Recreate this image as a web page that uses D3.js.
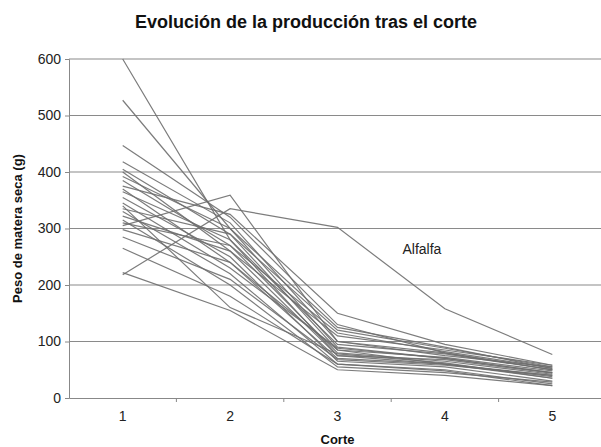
<!DOCTYPE html>
<html><head><meta charset="utf-8">
<script src="https://cdn.jsdelivr.net/npm/d3@7"></script>
<style>body{margin:0;background:#fff}svg{display:block}text{font-family:"Liberation Sans",Arial,sans-serif}</style>
</head><body><svg id="c" width="601" height="447"></svg>
<script>
const cortes = [1, 2, 3, 4, 5];
const yTicks = [0, 100, 200, 300, 400, 500, 600];
const title = "Evolución de la producción tras el corte";
const xTitle = "Corte";
const yTitle = "Peso de matera seca (g)";
const s01 = [600, 280, 75, 60, 40];
const s02 = [527, 300, 90, 70, 45];
const s03 = [447, 320, 130, 80, 50];
const s04 = [418, 310, 100, 75, 55];
const s05 = [405, 290, 85, 72, 48];
const s06 = [400, 260, 110, 85, 58];
const s07 = [392, 300, 125, 90, 52];
const s08 = [385, 270, 80, 65, 42];
const s09 = [375, 325, 150, 95, 58];
const s10 = [370, 240, 70, 60, 38];
const s11 = [365, 280, 95, 78, 50];
const s12 = [355, 250, 65, 55, 30];
const s13 = [345, 230, 88, 70, 45];
const s14 = [335, 290, 120, 88, 55];
const s15 = [330, 220, 60, 50, 25];
const s16 = [322, 260, 75, 68, 44];
const s17 = [315, 200, 55, 45, 28];
const s18 = [305, 359, 100, 80, 50];
const s19 = [298, 240, 85, 60, 35];
const s20 = [285, 210, 68, 58, 40];
const s21 = [265, 180, 60, 48, 22];
const s22 = [222, 155, 50, 40, 22];
const s23 = [340, 160, 78, 62, 35];
const s24 = [310, 270, 115, 82, 53];
const alfalfa = [218, 335, 302, 158, 77];
const alfalfaLabel = "Alfalfa";
const series = [s01,s02,s03,s04,s05,s06,s07,s08,s09,s10,s11,s12,s13,s14,s15,s16,s17,s18,s19,s20,s21,s22,s23,s24,alfalfa];

const svg = d3.select("#c");
const L = 69, R = 606, T = 59, B = 398;
const x = d3.scaleBand().domain(cortes).range([L, R]);
const y = d3.scaleLinear().domain([0, 600]).range([B, T]);
const cx = d => x(d) + x.bandwidth() / 2;

svg.append("defs").append("clipPath").attr("id","clip").append("rect").attr("x",0).attr("y",0).attr("width",601).attr("height",447);
const g = svg.append("g").attr("clip-path","url(#clip)");

// gridlines
g.selectAll(".grid").data(yTicks.filter(v => v > 0)).join("line")
  .attr("x1", L).attr("x2", 601).attr("y1", d => y(d)).attr("y2", d => y(d))
  .attr("stroke", "#8a8a8a").attr("stroke-width", 1.2);

// axes
const yAxis = g.append("g").attr("transform", `translate(${L},0)`)
  .call(d3.axisLeft(y).tickValues(yTicks).tickSize(4).tickPadding(4));
yAxis.select(".domain").attr("stroke", "#888");
yAxis.selectAll(".tick line").attr("stroke", "#888");
yAxis.selectAll("text").attr("font-size", 14).attr("fill", "#222");

const xAxis = g.append("g").attr("transform", `translate(0,${B})`)
  .call(d3.axisBottom(x).tickSize(0).tickPadding(13));
xAxis.select(".domain").attr("stroke", "#888").attr("stroke-width", 1.2);
xAxis.selectAll("text").attr("font-size", 14).attr("fill", "#222");
// category boundary ticks
g.selectAll(".bt").data(cortes.slice(1)).join("line")
  .attr("x1", d => x(d)).attr("x2", d => x(d)).attr("y1", B).attr("y2", B + 4)
  .attr("stroke", "#888");

// lines
const line = d3.line().x((d, i) => cx(cortes[i])).y(d => y(d));
g.selectAll(".s").data(series).join("path")
  .attr("d", line).attr("fill", "none")
  .attr("stroke", "#6e6e6e").attr("stroke-width", 1.2).attr("stroke-opacity", 0.9);

// label
svg.append("text").attr("x", cx(3) + 65).attr("y", y(255)).attr("font-size", 14).attr("fill", "#222").text(alfalfaLabel);

svg.append("text").attr("x", 306).attr("y", 28).attr("text-anchor", "middle")
  .attr("font-size", 18).attr("font-weight", "bold").attr("fill", "#111").text(title);
svg.append("text").attr("x", cx(3)).attr("y", 444).attr("text-anchor", "middle")
  .attr("font-size", 13).attr("font-weight", "bold").attr("fill", "#111").text(xTitle);
svg.append("text").attr("transform", `translate(22,${(T + B) / 2}) rotate(-90)`).attr("text-anchor", "middle")
  .attr("font-size", 13).attr("font-weight", "bold").attr("fill", "#111").text(yTitle);
</script></body></html>
